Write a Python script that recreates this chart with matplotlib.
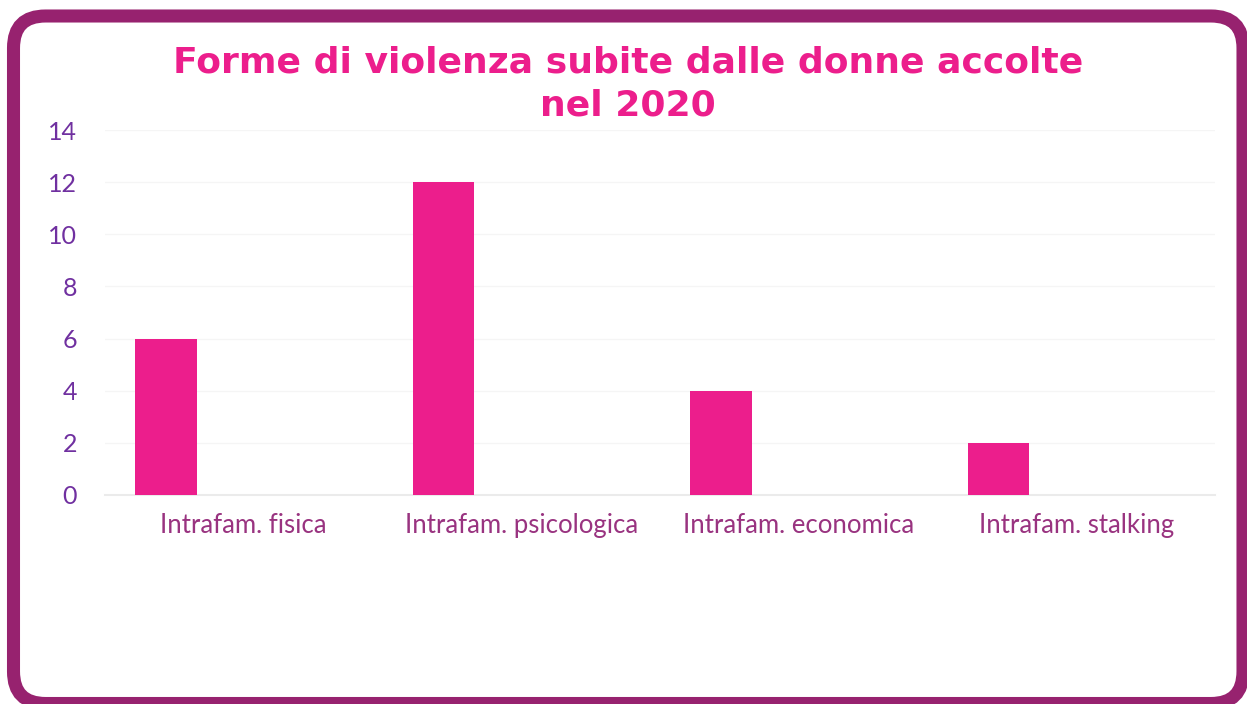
import numpy as np
import matplotlib.pyplot as plt
from matplotlib.patches import FancyBboxPatch

# Data
categories = ['Intrafam. fisica', 'Intrafam. psicologica', 'Intrafam. economica', 'Intrafam. stalking']
values = [6, 12, 4, 2]
yticks = [0, 2, 4, 6, 8, 10, 12, 14]

pink = '#EC1E8C'
border = '#97226F'
tick_purple = '#7030A0'
label_purple = '#993380'

plt.rcParams['font.family'] = ['Lato', 'DejaVu Sans']

fig = plt.figure(figsize=(12.47, 7.04), dpi=100)

# rounded frame around the whole chart
frame = FancyBboxPatch((0.135, 0.005), 12.43 - 0.135, 6.88 - 0.005,
                       boxstyle='round,pad=0,rounding_size=0.32',
                       transform=fig.dpi_scale_trans,
                       linewidth=9.4, edgecolor=border, facecolor='white',
                       zorder=-1)
fig.patches.append(frame)

ax = fig.add_axes([105 / 1247, 1 - 495 / 704, 1110 / 1247, 365 / 704])
ax.set_zorder(2)
ax.set_facecolor('none')

x = np.arange(len(categories))
ax.bar(x - 0.28, values, width=0.223, color=pink, zorder=3)

ax.set_xlim(-0.5, 3.5)
ax.set_ylim(0, 14)
ax.set_yticks(yticks)
ax.set_xticks(x)
ax.set_xticklabels(categories, color=label_purple, fontsize=18.5)
ax.tick_params(axis='y', colors=tick_purple, labelsize=18, length=0, pad=20)
ax.tick_params(axis='x', length=0, pad=13)

ax.grid(axis='y', color='#F5F5F5', linewidth=1, zorder=0)
for side in ['left', 'right', 'top']:
    ax.spines[side].set_visible(False)
ax.spines['bottom'].set_color('#EBEBEB')
ax.spines['bottom'].set_linewidth(1.5)

fig.text(628 / 1247, 1 - 84 / 704, 'Forme di violenza subite dalle donne accolte\nnel 2020',
         ha='center', va='center', color=pink, fontsize=26, fontweight='bold',
         linespacing=1.3, family=['DejaVu Sans'], zorder=3)

fig.savefig('out.png', dpi=100)
